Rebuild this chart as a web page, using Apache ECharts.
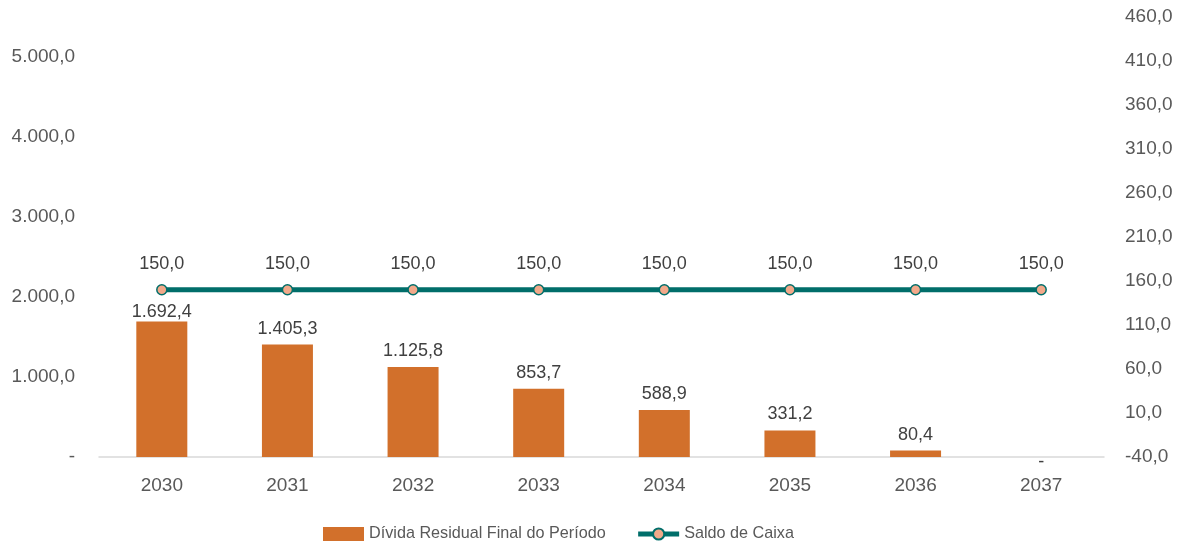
<!DOCTYPE html>
<html>
<head>
<meta charset="utf-8">
<script src="https://cdn.jsdelivr.net/npm/echarts@6/dist/echarts.min.js"></script>
<style>
  html, body { margin: 0; padding: 0; background: #ffffff; }
  #chart { width: 1185px; height: 545px; }
</style>
</head>
<body>
<div id="chart"></div>
<script>
const categories = ['2030', '2031', '2032', '2033', '2034', '2035', '2036', '2037'];
const dividaResidual = [1692.4, 1405.3, 1125.8, 853.7, 588.9, 331.2, 80.4, 0];
const saldoCaixa = [150, 150, 150, 150, 150, 150, 150, 150];
const leftTicks = [0, 1000, 2000, 3000, 4000, 5000];
const rightTicks = [-40, 10, 60, 110, 160, 210, 260, 310, 360, 410, 460];

function fmt(v, dashZero) {
  if (dashZero && Math.abs(v) < 1e-9) return '-';
  const s = Math.abs(v).toFixed(1);
  let parts = s.split('.');
  let i = parts[0].replace(/\B(?=(\d{3})+(?!\d))/g, '.');
  return (v < 0 ? '-' : '') + i + ',' + parts[1];
}

const FONT = 'Liberation Sans';
// label placement tweaks: first label sits closer to its bar (as in source), zero label below the axis
const barData = dividaResidual.map((v, i) => {
  if (v === 0) return { value: v, label: { offset: [0, 21] } };
  if (i === 0) return { value: v, label: { offset: [0, 6] } };
  return v;
});

const chart = echarts.init(document.getElementById('chart'), null, { renderer: 'canvas' });
chart.setOption({
  animation: false,
  backgroundColor: '#ffffff',
  textStyle: { fontFamily: FONT },
  grid: { left: 99, right: 81, top: 17, bottom: 88, containLabel: false },
  legend: {
    top: 521,
    left: 318,
    itemWidth: 41,
    itemHeight: 14,
    itemGap: 30,
    textStyle: { fontFamily: FONT, fontSize: 16.2, color: '#595959' },
    data: [
      { name: 'Dívida Residual Final do Período', icon: 'rect' },
      { name: 'Saldo de Caixa', lineStyle: { width: 5 } }
    ]
  },
  xAxis: {
    type: 'category',
    data: categories,
    axisLine: { show: true, lineStyle: { color: '#D9D9D9', width: 1.5 } },
    axisTick: { show: false },
    axisLabel: { color: '#595959', fontSize: 19, margin: 19, fontFamily: FONT },
    splitLine: { show: false }
  },
  yAxis: [
    {
      type: 'value',
      min: 0,
      max: 5500,
      axisLine: { show: false },
      axisTick: { show: false },
      splitLine: { show: false },
      axisLabel: {
        customValues: leftTicks,
        color: '#595959', fontSize: 19, margin: 24, fontFamily: FONT,
        formatter: v => fmt(v, true)
      }
    },
    {
      type: 'value',
      min: -40,
      max: 460,
      axisLine: { show: false },
      axisTick: { show: false },
      splitLine: { show: false },
      axisLabel: {
        customValues: rightTicks,
        color: '#595959', fontSize: 19, margin: 21, fontFamily: FONT,
        formatter: v => fmt(v, false)
      }
    }
  ],
  series: [
    {
      name: 'Dívida Residual Final do Período',
      type: 'bar',
      yAxisIndex: 0,
      data: barData,
      barWidth: 51,
      itemStyle: { color: '#D2702B' },
      label: {
        show: true, position: 'top', distance: 7,
        color: '#404040', fontSize: 18, fontFamily: FONT,
        formatter: p => fmt(p.value, true)
      }
    },
    {
      name: 'Saldo de Caixa',
      type: 'line',
      yAxisIndex: 1,
      data: saldoCaixa,
      symbol: 'circle',
      symbolSize: 10,
      lineStyle: { color: '#006E6A', width: 5 },
      itemStyle: { color: '#F2A98A', borderColor: '#006E6A', borderWidth: 1.5 },
      label: {
        show: true, position: 'top', distance: 11,
        color: '#404040', fontSize: 18, fontFamily: FONT,
        formatter: p => fmt(p.value, true)
      },
      z: 5
    }
  ]
});
</script>
</body>
</html>
